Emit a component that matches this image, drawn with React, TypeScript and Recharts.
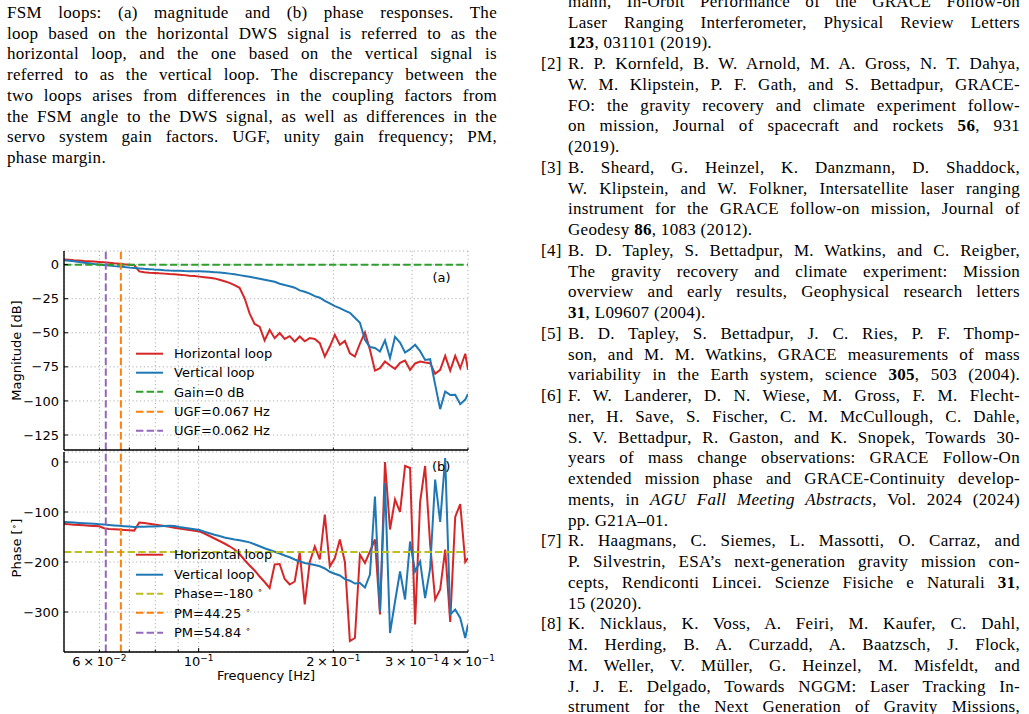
import React from "react";
import { CartesianGrid, Label, Legend, Line, LineChart, ReferenceLine, XAxis, YAxis } from "recharts";

// frequency grid [Hz]
const freqs = [
  0.05, 0.05131, 0.05265, 0.05402, 0.05544, 0.05689, 0.05837, 0.0599, 0.06147, 0.06307,
  0.06472, 0.06642, 0.06815, 0.06993, 0.07176, 0.07364, 0.07557, 0.07754, 0.07957, 0.08165,
  0.08379, 0.08598, 0.08823, 0.09053, 0.0929, 0.09533, 0.09783, 0.10039, 0.10301, 0.10571,
  0.10847, 0.11131, 0.11422, 0.11721, 0.12027, 0.12342, 0.12664, 0.12996, 0.13336, 0.13684,
  0.14042, 0.1441, 0.14787, 0.15173, 0.1557, 0.15977, 0.16395, 0.16824, 0.17264, 0.17715,
  0.18179, 0.18654, 0.19142, 0.19642, 0.20156, 0.20683, 0.21224, 0.21779, 0.22348, 0.22933,
  0.23533, 0.24148, 0.2478, 0.25428, 0.26093, 0.26775, 0.27475, 0.28194, 0.28931, 0.29688,
  0.30464, 0.31261, 0.32078, 0.32917, 0.33778, 0.34661, 0.35568, 0.36498, 0.37452, 0.38432,
  0.39437, 0.4,
];

// magnitude [dB]
const magHorizontal = [
  3.7, 3.5, 3.2, 3.0, 2.7, 2.5, 2.3, 2.0, 1.7, 1.4,
  1.0, 0.7, 0.3, 0.0, -0.3, -5.0, -5.6, -5.9, -6.1, -6.4,
  -6.6, -6.9, -7.1, -7.4, -7.7, -8.1, -8.4, -8.8, -9.2, -9.6,
  -10.1, -11.1, -12.2, -13.4, -15.1, -17.0, -24.5, -35.8, -43.5, -45.5,
  -55.6, -47.8, -54.0, -50.2, -54.5, -52.5, -56.4, -52.7, -56.2, -53.9,
  -54.5, -57.6, -67.4, -60.1, -51.5, -58.8, -56.0, -65.0, -67.4, -58.0,
  -49.7, -62.5, -77.7, -76.0, -71.1, -74.0, -76.5, -72.0, -70.4, -77.2,
  -72.5, -71.1, -71.8, -72.3, -80.1, -77.2, -66.9, -77.7, -66.9, -76.0,
  -65.4, -77.2,
];
const magVertical = [
  3.2, 2.8, 2.4, 1.9, 1.4, 1.0, 0.5, 0.1, -0.3, -0.7,
  -1.1, -1.4, -1.8, -2.2, -2.5, -2.8, -3.1, -3.3, -3.6, -3.8,
  -4.1, -4.3, -4.4, -4.5, -4.7, -4.8, -4.9, -4.9, -5.1, -5.3,
  -5.5, -5.8, -6.2, -6.6, -7.1, -7.7, -8.3, -8.9, -9.7, -10.4,
  -11.1, -11.8, -12.6, -14.0, -15.0, -15.9, -16.9, -18.9, -19.9, -21.3,
  -23.1, -24.3, -26.6, -28.5, -30.4, -31.9, -33.7, -35.3, -39.0, -42.7,
  -55.1, -60.5, -61.2, -63.7, -55.6, -68.6, -53.0, -57.1, -64.5, -62.0,
  -58.8, -63.5, -69.9, -69.4, -88.0, -106.0, -93.1, -95.6, -95.5, -102.4,
  -99.0, -94.9,
];

// phase [deg]
const phaseHorizontal = [
  -124, -124.7, -125.3, -126, -126.7, -127.3, -128, -128.7, -132.5, -133.8,
  -134.5, -135.1, -135.8, -136.6, -137.2, -121, -122, -123.6, -125, -126.6,
  -128, -129.6, -131.3, -133, -134.6, -136, -137.4, -138.8, -143, -148,
  -153, -158, -163, -168.5, -175, -184, -196, -207, -217, -229,
  -240, -252, -205, -204, -234, -245, -239, -181, -285, -200,
  -169, -195, -105, -209, -192, -155, -200, -358, -352, -185,
  -202, -179, -155, -305, 0, -135, -75, -100, -8, -12,
  -325, -80, -8, -165, -275, -255, -175, -320, -110, -84,
  -200, -192,
];
const phaseVertical = [
  -120, -120.6, -121.2, -121.8, -122.4, -123, -123.7, -124.4, -125.2, -126,
  -126.8, -127.5, -128.3, -129.2, -130, -129.7, -129.5, -129.2, -129, -128.6,
  -128.2, -127.6, -128, -130, -131.5, -133, -134.5, -136, -139.5, -142.5,
  -145.5, -148, -151, -153, -155, -156.5, -158.5, -160.8, -164.5, -168.5,
  -172.5, -176, -179.5, -183, -187, -190.5, -195, -199, -202, -204,
  -206, -208.5, -213, -219.5, -223.5, -227, -234, -237.4, -243, -242,
  -251, -225, -69, -299, -42, -342, -279, -219, -275, -159,
  -219, -199, -272, -213, -35, -120, 8, -305, -295, -312,
  -352, -325,
];

const ugfHorizontal = 0.067;
const ugfVertical = 0.062;
const freqTicks = [0.06, 0.07, 0.08, 0.09, 0.1, 0.2, 0.3, 0.4];
const freqTickLabels: Record<string, [string, string]> = {
  "0.06": ["6\u2009×\u200910", "−2"],
  "0.1": ["10", "−1"],
  "0.2": ["2\u2009×\u200910", "−1"],
  "0.3": ["3\u2009×\u200910", "−1"],
  "0.4": ["4\u2009×\u200910", "−1"],
};
const magTicks = [0, -25, -50, -75, -100, -125];
const phaseTicks = [0, -100, -200, -300];

const captionLines = [
  "FSM loops: (a) magnitude and (b) phase responses. The",
  "loop based on the horizontal DWS signal is referred to as the",
  "horizontal loop, and the one based on the vertical signal is",
  "referred to as the vertical loop. The discrepancy between the",
  "two loops arises from differences in the coupling factors from",
  "the FSM angle to the DWS signal, as well as differences in the",
  "servo system gain factors. UGF, unity gain frequency; PM,",
  "phase margin.",
];

const refLines: { tag?: string; text: string; last?: boolean }[] = [
  { text: "mann, In-Orbit Performance of the GRACE Follow-on" },
  { text: "Laser Ranging Interferometer, Physical Review Letters" },
  { text: "**123**, 031101 (2019).", last: true },
  { tag: "[2]", text: "R. P. Kornfeld, B. W. Arnold, M. A. Gross, N. T. Dahya," },
  { text: "W. M. Klipstein, P. F. Gath, and S. Bettadpur, GRACE-" },
  { text: "FO: the gravity recovery and climate experiment follow-" },
  { text: "on mission, Journal of spacecraft and rockets **56**, 931" },
  { text: "(2019).", last: true },
  { tag: "[3]", text: "B. Sheard, G. Heinzel, K. Danzmann, D. Shaddock," },
  { text: "W. Klipstein, and W. Folkner, Intersatellite laser ranging" },
  { text: "instrument for the GRACE follow-on mission, Journal of" },
  { text: "Geodesy **86**, 1083 (2012).", last: true },
  { tag: "[4]", text: "B. D. Tapley, S. Bettadpur, M. Watkins, and C. Reigber," },
  { text: "The gravity recovery and climate experiment: Mission" },
  { text: "overview and early results, Geophysical research letters" },
  { text: "**31**, L09607 (2004).", last: true },
  { tag: "[5]", text: "B. D. Tapley, S. Bettadpur, J. C. Ries, P. F. Thomp-" },
  { text: "son, and M. M. Watkins, GRACE measurements of mass" },
  { text: "variability in the Earth system, science **305**, 503 (2004)." },
  { tag: "[6]", text: "F. W. Landerer, D. N. Wiese, M. Gross, F. M. Flecht-" },
  { text: "ner, H. Save, S. Fischer, C. M. McCullough, C. Dahle," },
  { text: "S. V. Bettadpur, R. Gaston, and K. Snopek, Towards 30-" },
  { text: "years of mass change observations: GRACE Follow-On" },
  { text: "extended mission phase and GRACE-Continuity develop-" },
  { text: "ments, in _AGU Fall Meeting Abstracts_, Vol. 2024 (2024)" },
  { text: "pp. G21A–01.", last: true },
  { tag: "[7]", text: "R. Haagmans, C. Siemes, L. Massotti, O. Carraz, and" },
  { text: "P. Silvestrin, ESA’s next-generation gravity mission con-" },
  { text: "cepts, Rendiconti Lincei. Scienze Fisiche e Naturali **31**," },
  { text: "15 (2020).", last: true },
  { tag: "[8]", text: "K. Nicklaus, K. Voss, A. Feiri, M. Kaufer, C. Dahl," },
  { text: "M. Herding, B. A. Curzadd, A. Baatzsch, J. Flock," },
  { text: "M. Weller, V. Müller, G. Heinzel, M. Misfeldt, and" },
  { text: "J. J. E. Delgado, Towards NGGM: Laser Tracking In-" },
  { text: "strument for the Next Generation of Gravity Missions," },
];

const RED = "#d62728";
const BLUE = "#1f77b4";
const GREEN = "#2ca02c";
const ORANGE = "#ff7f0e";
const PURPLE = "#9467bd";
const OLIVE = "#bcbd22";
const SANS = "'DejaVu Sans', sans-serif";
const SERIF = "'Liberation Serif', 'Times New Roman', serif";
const DASH = "7.4 3.2";
const PLOT_LEFT = 64;
const LINE_H = 20.75;
const TEXT_SIZE = 17;

type LegendEntry = { label: string; sup?: string; color: string; dashed?: boolean };

const magLegend: LegendEntry[] = [
  { label: "Horizontal loop", color: RED },
  { label: "Vertical loop", color: BLUE },
  { label: "Gain=0 dB", color: GREEN, dashed: true },
  { label: "UGF=0.067 Hz", color: ORANGE, dashed: true },
  { label: "UGF=0.062 Hz", color: PURPLE, dashed: true },
];
const phaseLegend: LegendEntry[] = [
  { label: "Horizontal loop", color: RED },
  { label: "Vertical loop", color: BLUE },
  { label: "Phase=-180 ", sup: "∘", color: OLIVE, dashed: true },
  { label: "PM=44.25 ", sup: "∘", color: ORANGE, dashed: true },
  { label: "PM=54.84 ", sup: "∘", color: PURPLE, dashed: true },
];

const rows = freqs.map((f, i) => ({
  f,
  magH: magHorizontal[i],
  magV: magVertical[i],
  phH: phaseHorizontal[i],
  phV: phaseVertical[i],
}));

function Rich({ text }: { text: string }) {
  const parts = text.split(/(\*\*[^*]+\*\*|_[^_]+_)/).filter(Boolean);
  return (
    <>
      {parts.map((p, i) =>
        p.startsWith("**") ? <b key={i}>{p.slice(2, -2)}</b>
        : p.startsWith("_") ? <i key={i}>{p.slice(1, -1)}</i>
        : <React.Fragment key={i}>{p}</React.Fragment>
      )}
    </>
  );
}

function TextLine({ text, last }: { text: string; last?: boolean }) {
  return (
    <div style={{ height: LINE_H, lineHeight: `${LINE_H}px`, textAlign: last ? "left" : "justify", textAlignLast: last ? "left" : "justify" }}>
      <Rich text={text} />
    </div>
  );
}

function FreqTick(props: any) {
  const { x, y, payload, showLabel } = props;
  const v = payload.value as number;
  const lab = freqTickLabels[String(v)];
  const len = v === 0.1 ? 4 : 2.5;
  return (
    <g>
      <line x1={x} x2={x} y1={y} y2={y - len} stroke="#000" strokeWidth={1} />
      {showLabel && lab && (
        <text x={x} y={y + 14} textAnchor="middle" fontSize={13} fontFamily={SANS} fill="#000">
          {lab[0]}
          <tspan dy={-5.5} fontSize={9}>{lab[1]}</tspan>
        </text>
      )}
    </g>
  );
}

function ValueTick(props: any) {
  const { y, payload } = props;
  const v = payload.value as number;
  const txt = v < 0 ? `−${Math.abs(v)}` : `${v}`;
  return (
    <g>
      <line x1={PLOT_LEFT} x2={PLOT_LEFT + 4} y1={y} y2={y} stroke="#000" strokeWidth={1} />
      <text x={PLOT_LEFT - 5} y={y} dy={4.6} textAnchor="end" fontSize={13} fontFamily={SANS} fill="#000">
        {txt}
      </text>
    </g>
  );
}

function LegendBox({ entries }: { entries: LegendEntry[] }) {
  return (
    <div style={{ fontFamily: SANS, fontSize: 13, color: "#000" }}>
      {entries.map((e) => (
        <div key={e.label + e.color} style={{ display: "flex", alignItems: "center", height: 19.4 }}>
          <svg width={38} height={19.4} style={{ flex: "none" }}>
            <line x1={0} x2={27} y1={9.7} y2={9.7} stroke={e.color} strokeWidth={2} strokeDasharray={e.dashed ? DASH : undefined} />
          </svg>
          <span style={{ whiteSpace: "nowrap" }}>
            {e.label}
            {e.sup && <span style={{ fontSize: 9, position: "relative", top: -5 }}>{e.sup}</span>}
          </span>
        </div>
      ))}
    </div>
  );
}

type PanelProps = {
  hKey: string;
  vKey: string;
  yDomain: [number, number];
  yTicks: number[];
  yLabel: React.ReactNode;
  legend: LegendEntry[];
  legendTop: number;
  refY: number;
  refYColor: string;
  height: number;
  marginTop: number;
  xAxisHeight: number;
  showXLabels: boolean;
};

function Panel(p: PanelProps) {
  return (
    <LineChart width={500} height={p.height} data={rows} margin={{ top: p.marginTop, right: 32, bottom: 0, left: 0 }}>
      <CartesianGrid stroke="#b0b0b0" strokeDasharray="1.2 2.6" strokeWidth={1} />
      <XAxis
        dataKey="f"
        type="number"
        scale="log"
        domain={[0.05, 0.4]}
        allowDataOverflow
        ticks={freqTicks}
        interval={0}
        tickSize={0}
        tickMargin={0}
        height={p.xAxisHeight}
        tickLine={false}
        axisLine={{ stroke: "#000", strokeWidth: 1.4 }}
        tick={(t: any) => <FreqTick {...t} showLabel={p.showXLabels} />}
      >
        {p.showXLabels && (
          <Label
            content={() => (
              <text x={266} y={p.height - 10} textAnchor="middle" fontSize={13} fontFamily={SANS} fill="#000">
                Frequency [Hz]
              </text>
            )}
          />
        )}
      </XAxis>
      <XAxis xAxisId="frame" orientation="top" dataKey="f" type="number" scale="log" domain={[0.05, 0.4]} allowDataOverflow height={0} tick={false} tickLine={false} axisLine={{ stroke: "#000", strokeWidth: 1.4 }} />
      <YAxis
        type="number"
        domain={p.yDomain}
        allowDataOverflow
        ticks={p.yTicks}
        interval={0}
        width={PLOT_LEFT}
        tickSize={0}
        tickMargin={5}
        tickLine={false}
        axisLine={{ stroke: "#000", strokeWidth: 1.4 }}
        tick={(t: any) => <ValueTick {...t} />}
      >
        <Label content={() => p.yLabel} />
      </YAxis>
      <YAxis yAxisId="frame" orientation="right" domain={p.yDomain} allowDataOverflow width={0} tick={false} tickLine={false} axisLine={{ stroke: "#000", strokeWidth: 1.4 }} />
      <Line dataKey={p.hKey} stroke={RED} strokeWidth={2} dot={false} isAnimationActive={false} />
      <Line dataKey={p.vKey} stroke={BLUE} strokeWidth={2} dot={false} isAnimationActive={false} />
      <ReferenceLine y={p.refY} stroke={p.refYColor} strokeWidth={2} strokeDasharray={DASH} />
      <ReferenceLine x={ugfHorizontal} stroke={ORANGE} strokeWidth={2} strokeDasharray={DASH} />
      <ReferenceLine x={ugfVertical} stroke={PURPLE} strokeWidth={2} strokeDasharray={DASH} />
      <Legend
        layout="vertical"
        align="center"
        verticalAlign="middle"
        wrapperStyle={{ left: 136, top: p.legendTop, width: 220 }}
        content={() => <LegendBox entries={p.legend} />}
      />
    </LineChart>
  );
}

function RotatedLabel({ cy, children }: { cy: number; children: React.ReactNode }) {
  return (
    <text x={16} y={cy} dy={4.7} transform={`rotate(-90 16 ${cy})`} textAnchor="middle" fontSize={13} fontFamily={SANS} fill="#000">
      {children}
    </text>
  );
}

const textBlock: React.CSSProperties = { position: "absolute", fontFamily: SERIF, fontSize: TEXT_SIZE, letterSpacing: 0.3, color: "#000" };

export default function App() {
  return (
    <div style={{ position: "absolute", left: 0, top: 0, width: 1029, height: 714, background: "#fff", overflow: "hidden" }}>
      <div style={{ ...textBlock, left: 7, top: 13.3 - LINE_H / 2, width: 490 }}>
        {captionLines.map((t, i) => (
          <TextLine key={i} text={t} last={i === captionLines.length - 1} />
        ))}
      </div>
      <div style={{ ...textBlock, left: 568, top: 2.3 - LINE_H / 2, width: 452 }}>
        {refLines.map((r, i) => (
          <div key={i} style={{ position: "relative" }}>
            {r.tag && <span style={{ position: "absolute", left: -27, top: 0, lineHeight: `${LINE_H}px` }}>{r.tag}</span>}
            <TextLine text={r.text} last={r.last} />
          </div>
        ))}
      </div>

      <div style={{ position: "absolute", left: 0, top: 240 }}>
        <Panel
          hKey="magH"
          vKey="magV"
          yDomain={[-136, 10]}
          yTicks={magTicks}
          yLabel={<RotatedLabel cy={110.5}>Magnitude [dB]</RotatedLabel>}
          legend={magLegend}
          legendTop={103.6}
          refY={0}
          refYColor={GREEN}
          height={214}
          marginTop={11}
          xAxisHeight={4}
          showXLabels={false}
        />
      </div>
      <div style={{ position: "absolute", left: 0, top: 440 }}>
        <Panel
          hKey="phH"
          vKey="phV"
          yDomain={[-380, 20]}
          yTicks={phaseTicks}
          yLabel={
            <RotatedLabel cy={108}>
              Phase [<tspan dy={-4} fontSize={9}>∘</tspan>
              <tspan dy={4}>]</tspan>
            </RotatedLabel>
          }
          legend={phaseLegend}
          legendTop={105.3}
          refY={-180}
          refYColor={OLIVE}
          height={250}
          marginTop={12}
          xAxisHeight={38}
          showXLabels
        />
      </div>
      <div style={{ position: "absolute", left: 432.5, top: 270.3, fontFamily: SANS, fontSize: 13, lineHeight: "16px" }}>(a)</div>
      <div style={{ position: "absolute", left: 432, top: 458.7, fontFamily: SANS, fontSize: 13, lineHeight: "16px" }}>(b)</div>
    </div>
  );
}
